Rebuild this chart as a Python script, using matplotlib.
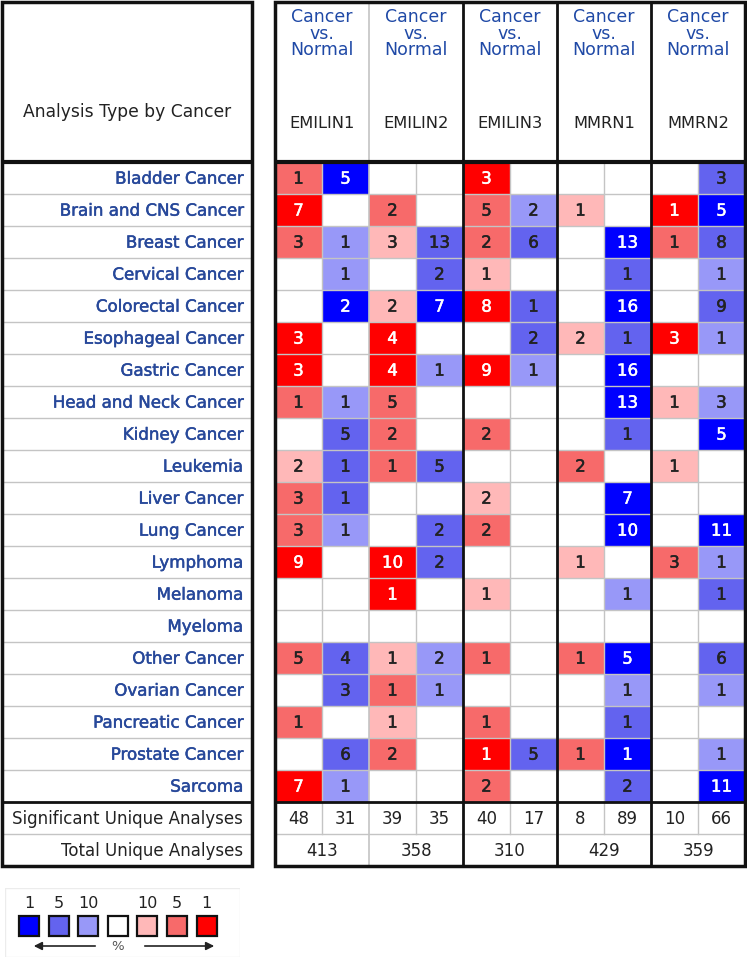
import matplotlib
matplotlib.use('Agg')
import matplotlib.pyplot as plt
from matplotlib.patches import Rectangle
from matplotlib.colors import to_rgb
import matplotlib.patheffects as pe
import numpy as np

# ---------------- data ----------------
cancers = ['Bladder Cancer', 'Brain and CNS Cancer', 'Breast Cancer', 'Cervical Cancer',
           'Colorectal Cancer', 'Esophageal Cancer', 'Gastric Cancer', 'Head and Neck Cancer',
           'Kidney Cancer', 'Leukemia', 'Liver Cancer', 'Lung Cancer', 'Lymphoma', 'Melanoma',
           'Myeloma', 'Other Cancer', 'Ovarian Cancer', 'Pancreatic Cancer', 'Prostate Cancer',
           'Sarcoma']
genes = ['EMILIN1', 'EMILIN2', 'EMILIN3', 'MMRN1', 'MMRN2']
analysis_label = 'Cancer\nvs.\nNormal'

# columns: for each gene, [over-expressed, under-expressed]
counts = [
    [1, 5, 0, 0, 3, 0, 0, 0, 0, 3],
    [7, 0, 2, 0, 5, 2, 1, 0, 1, 5],
    [3, 1, 3, 13, 2, 6, 0, 13, 1, 8],
    [0, 1, 0, 2, 1, 0, 0, 1, 0, 1],
    [0, 2, 2, 7, 8, 1, 0, 16, 0, 9],
    [3, 0, 4, 0, 0, 2, 2, 1, 3, 1],
    [3, 0, 4, 1, 9, 1, 0, 16, 0, 0],
    [1, 1, 5, 0, 0, 0, 0, 13, 1, 3],
    [0, 5, 2, 0, 2, 0, 0, 1, 0, 5],
    [2, 1, 1, 5, 0, 0, 2, 0, 1, 0],
    [3, 1, 0, 0, 2, 0, 0, 7, 0, 0],
    [3, 1, 0, 2, 2, 0, 0, 10, 0, 11],
    [9, 0, 10, 2, 0, 0, 1, 0, 3, 1],
    [0, 0, 1, 0, 1, 0, 0, 1, 0, 1],
    [0, 0, 0, 0, 0, 0, 0, 0, 0, 0],
    [5, 4, 1, 2, 1, 0, 1, 5, 0, 6],
    [0, 3, 1, 1, 0, 0, 0, 1, 0, 1],
    [1, 0, 1, 0, 1, 0, 0, 1, 0, 0],
    [0, 6, 2, 0, 1, 5, 1, 1, 0, 1],
    [7, 1, 0, 0, 2, 0, 0, 2, 0, 11],
]
# gene rank level of the best analysis: 3 = top 1%, 2 = top 5%, 1 = top 10%, 0 = none
levels = [
    [2, 3, 0, 0, 3, 0, 0, 0, 0, 2],
    [3, 0, 2, 0, 2, 1, 1, 0, 3, 3],
    [2, 1, 1, 2, 2, 2, 0, 3, 2, 2],
    [0, 1, 0, 2, 1, 0, 0, 2, 0, 1],
    [0, 3, 1, 3, 3, 2, 0, 3, 0, 2],
    [3, 0, 3, 0, 0, 2, 1, 2, 3, 1],
    [3, 0, 3, 1, 3, 1, 0, 3, 0, 0],
    [2, 1, 2, 0, 0, 0, 0, 3, 1, 1],
    [0, 2, 2, 0, 2, 0, 0, 2, 0, 3],
    [1, 2, 2, 2, 0, 0, 2, 0, 1, 0],
    [2, 2, 0, 0, 1, 0, 0, 3, 0, 0],
    [2, 1, 0, 2, 2, 0, 0, 3, 0, 3],
    [3, 0, 3, 2, 0, 0, 1, 0, 2, 1],
    [0, 0, 3, 0, 1, 0, 0, 1, 0, 2],
    [0, 0, 0, 0, 0, 0, 0, 0, 0, 0],
    [2, 2, 1, 1, 2, 0, 2, 3, 0, 2],
    [0, 2, 2, 1, 0, 0, 0, 1, 0, 1],
    [2, 0, 1, 0, 2, 0, 0, 2, 0, 0],
    [0, 2, 2, 0, 3, 2, 2, 3, 0, 1],
    [3, 1, 0, 0, 2, 0, 0, 2, 0, 3],
]
significant = [48, 31, 39, 35, 40, 17, 8, 89, 10, 66]
total = [413, 358, 310, 429, 359]
sig_label = 'Significant Unique Analyses'
total_label = 'Total Unique Analyses'
legend_labels = ['1', '5', '10', '', '10', '5', '1']
legend_levels = [-3, -2, -1, 0, 1, 2, 3]

# ---------------- style ----------------
RED = {1: '#ffb8b8', 2: '#f76a6a', 3: '#ff0000'}
BLUE = {1: '#9898f8', 2: '#6363ef', 3: '#0000ff'}
LABEL_BLUE = '#27489a'
HEAD_BLUE = '#1f49a6'
GRID = '#c4c4c4'
TXT = '#222222'
FS = 12


def level_color(signed):
    if signed == 0:
        return '#ffffff'
    return (RED if signed > 0 else BLUE)[abs(signed)]


def heavy(color):
    return [pe.withStroke(linewidth=0.35, foreground=color)]


W, H = 747, 957
fig = plt.figure(figsize=(W / 100, H / 100), dpi=100)
fig.patch.set_facecolor('white')

# layout in pixels
TOP, ROWPX = 2, 32
HDR_ROWS = 5
nrows = len(cancers)
ncols = len(counts[0])
BOT = TOP + ROWPX * (HDR_ROWS + nrows + 2)
RX0, RX1 = 275, 745
LX0, LX1 = 2, 252


def rect(x0, y0, x1, y1):
    return [x0 / W, 1 - y1 / H, (x1 - x0) / W, (y1 - y0) / H]


# ---------------- right table ----------------
ax = fig.add_axes(rect(RX0, TOP, RX1, BOT))
ax.set_xlim(0, ncols)
ax.set_ylim(nrows + 2, -HDR_ROWS)
ax.axis('off')

signed = np.array(levels) * np.where(np.arange(ncols) % 2 == 0, 1, -1)[None, :]
img = np.array([[to_rgb(level_color(v)) for v in row] for row in signed])
ax.imshow(img, extent=(0, ncols, nrows, 0), aspect='auto', interpolation='nearest', zorder=1)

cnt = np.array(counts)
for i in range(nrows):
    for j in range(ncols):
        if cnt[i, j] > 0:
            c = 'white' if levels[i][j] == 3 else TXT
            ax.text(j + 0.5, i + 0.52, str(cnt[i, j]), ha='center', va='center',
                    fontsize=FS, color=c, zorder=3, path_effects=heavy(c))

# summary rows
for j, v in enumerate(significant):
    ax.text(j + 0.5, nrows + 0.52, str(v), ha='center', va='center', fontsize=FS, color=TXT)
for g, v in enumerate(total):
    ax.text(2 * g + 1, nrows + 1.52, str(v), ha='center', va='center', fontsize=FS, color=TXT)

# header
for g, name in enumerate(genes):
    for k, line in enumerate(analysis_label.split('\n')):
        ax.text(2 * g + 1, -HDR_ROWS + 0.47 + 0.515 * k, line, ha='center', va='center',
                fontsize=FS + 0.5, color=HEAD_BLUE)
    ax.text(2 * g + 1, -1.19, name, ha='center', va='center', fontsize=FS - 0.3, color=TXT)

# grid lines
for i in range(1, nrows + 2):
    if i == nrows:
        continue
    ax.plot([0, ncols], [i, i], color=GRID, lw=1, zorder=2)
for j in range(1, ncols):
    if j % 2 == 1:
        ax.plot([j, j], [0, nrows + 1], color=GRID, lw=1, zorder=2)
    elif j == 2:
        ax.plot([j, j], [-HDR_ROWS, nrows + 2], color=GRID, lw=1.2, zorder=2)
    else:
        ax.plot([j, j], [-HDR_ROWS, nrows + 2], color='#111111', lw=2, zorder=4)
ax.plot([0, ncols], [0, 0], color='#111111', lw=3, zorder=4)
ax.plot([0, ncols], [nrows, nrows], color='#111111', lw=2, zorder=4)
ax.add_patch(Rectangle((0, -HDR_ROWS), ncols, nrows + 2 + HDR_ROWS, fill=False,
                       ec='#111111', lw=2.5, zorder=5, clip_on=False))

# ---------------- left table ----------------
axl = fig.add_axes(rect(LX0, TOP, LX1, BOT))
axl.set_xlim(0, LX1 - LX0)
axl.set_ylim(nrows + 2, -HDR_ROWS)
axl.axis('off')
LW = LX1 - LX0
axl.text(LW / 2, -1.56, 'Analysis Type by Cancer', ha='center', va='center',
         fontsize=FS + 0.3, color=TXT)
for i, name in enumerate(cancers):
    axl.text(LW - 9, i + 0.52, name, ha='right', va='center', fontsize=FS, color=LABEL_BLUE,
             path_effects=heavy(LABEL_BLUE))
axl.text(LW - 9, nrows + 0.52, sig_label, ha='right', va='center', fontsize=FS, color=TXT)
axl.text(LW - 9, nrows + 1.52, total_label, ha='right', va='center', fontsize=FS, color=TXT)
for i in range(1, nrows + 2):
    if i == nrows:
        continue
    axl.plot([0, LW], [i, i], color=GRID, lw=1, zorder=2)
axl.plot([0, LW], [0, 0], color='#111111', lw=3, zorder=4)
axl.plot([0, LW], [nrows, nrows], color='#111111', lw=2, zorder=4)
axl.add_patch(Rectangle((0, -HDR_ROWS), LW, nrows + 2 + HDR_ROWS, fill=False,
                        ec='#111111', lw=2.5, zorder=5, clip_on=False))

# ---------------- legend ----------------
axg = fig.add_axes(rect(5, 888, 240, 957))
axg.set_xlim(0, 235)
axg.set_ylim(69, 0)
axg.axis('off')
axg.add_patch(Rectangle((0, 0), 235, 69, fill=False, ec='#ececec', lw=1))
STEP, BOX = 29.6, 20
for k, (lab, lv) in enumerate(zip(legend_labels, legend_levels)):
    x = 14 + k * STEP
    axg.add_patch(Rectangle((x, 28), BOX, BOX, fc=level_color(lv), ec='#111111', lw=1.6))
    if lab:
        axg.text(x + BOX / 2, 15, lab, ha='center', va='center', fontsize=11.5, color=TXT)
axg.annotate('', xy=(26, 58), xytext=(93, 58),
             arrowprops=dict(arrowstyle='-|>', color='#222222', lw=1.2, mutation_scale=12))
axg.annotate('', xy=(212, 58), xytext=(137, 58),
             arrowprops=dict(arrowstyle='-|>', color='#222222', lw=1.2, mutation_scale=12))
axg.text(113, 58, '%', ha='center', va='center', fontsize=9.5, color='#555555')

fig.savefig('out.png', dpi=100, facecolor='white')
